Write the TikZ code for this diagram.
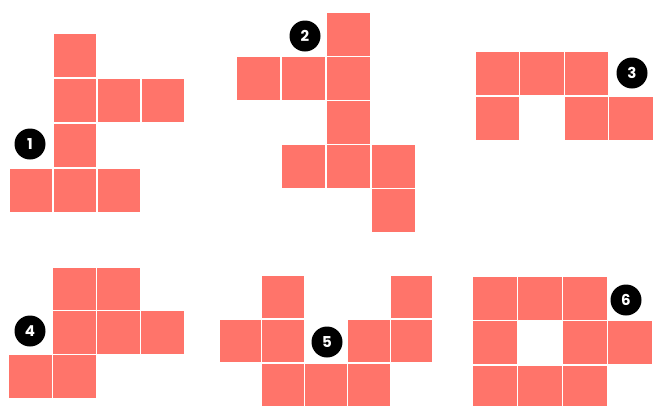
\documentclass[tikz,border=0pt]{standalone}
\usepackage{fontspec}
\setsansfont{Poppins}
\usepackage{tikz}

\definecolor{tilered}{RGB}{255,116,106}
\tikzset{
  cell/.style={fill=tilered, draw=white, line width=1.2pt},
  badge/.style={circle, fill=black, minimum size=31pt, inner sep=0pt,
    text=white, font=\sffamily\bfseries\fontsize{15}{15}\selectfont}
}

\begin{document}
\begin{tikzpicture}[x=1pt, y=-1pt]
  \useasboundingbox (0,0) rectangle (653,405);

  % net 1
  \begin{scope}[shift={(9,33)}, x=44pt, y=-45pt]
    \foreach \c/\r in {1/0, 1/1, 2/1, 3/1, 1/2, 0/3, 1/3, 2/3}
      \draw[cell] (\c,\r) rectangle ++(1,1);
  \end{scope}
  \node[badge] (b1) at (30,144) {1};

  % net 2
  \begin{scope}[shift={(236,12)}, x=45pt, y=-44.2pt]
    \foreach \c/\r in {2/0, 0/1, 1/1, 2/1, 2/2, 1/3, 2/3, 3/3, 3/4}
      \draw[cell] (\c,\r) rectangle ++(1,1);
  \end{scope}
  \node[badge] (b2) at (305,36) {2};

  % net 3
  \begin{scope}[shift={(475,51)}, x=44.6pt, y=-45pt]
    \foreach \c/\r in {0/0, 1/0, 2/0, 0/1, 2/1, 3/1}
      \draw[cell] (\c,\r) rectangle ++(1,1);
  \end{scope}
  \node[badge] (b3) at (632,73) {3};

  % net 4
  \begin{scope}[shift={(8,267)}, x=44.2pt, y=-43.7pt]
    \foreach \c/\r in {1/0, 2/0, 1/1, 2/1, 3/1, 0/2, 1/2}
      \draw[cell] (\c,\r) rectangle ++(1,1);
  \end{scope}
  \node[badge] (b4) at (30,331) {4};

  % net 5
  \begin{scope}[shift={(219,275)}, x=42.8pt, y=-44pt]
    \foreach \c/\r in {1/0, 4/0, 0/1, 1/1, 3/1, 4/1, 1/2, 2/2, 3/2}
      \draw[cell] (\c,\r) rectangle ++(1,1);
  \end{scope}
  \node[badge] (b5) at (327,342) {5};

  % net 6
  \begin{scope}[shift={(472,276)}, x=45.2pt, y=-44.5pt]
    \foreach \c/\r in {0/0, 1/0, 2/0, 0/1, 2/1, 3/1, 0/2, 1/2, 2/2}
      \draw[cell] (\c,\r) rectangle ++(1,1);
  \end{scope}
  \node[badge] (b6) at (626,300) {6};
\end{tikzpicture}
\end{document}
